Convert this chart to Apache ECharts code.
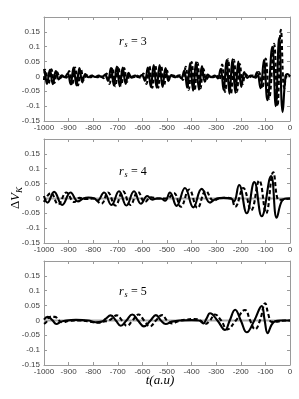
<!DOCTYPE html>
<html><head><meta charset="utf-8">
<script src="https://cdn.jsdelivr.net/npm/echarts@6/dist/echarts.min.js"></script>
<style>html,body{margin:0;padding:0;background:#fff}#c{width:299px;height:399px}</style>
</head><body><div id="c"></div>
<script>
// r_s values of the three panels
const rsValues = ['3', '4', '5'];
const xTickLabels = ['-1000','-900','-800','-700','-600','-500','-400','-300','-200','-100','0'];
const yTickLabels = ['-0.15','-0.1','-0.05','0','0.05','0.1','0.15'];
const zeroLine = [[-1000, 0], [0, 0]];

// panel 1 (r_s = 3)
const solid1 = [[-1000,0.025],[-994,0.0],[-988,-0.025],[-976,0.022],[-964,-0.026],[-952,0.018],[-940,-0.01],[-928,0.004],[-916,-0.003],
 [-904,0.01],[-892,-0.026],[-880,0.03],[-868,-0.03],[-856,0.028],[-844,-0.02],[-832,0.008],[-820,-0.003],[-806,0.003],[-792,-0.002],[-778,0.003],[-764,-0.003],[-752,0.006],
 [-740,-0.015],[-728,0.028],[-716,-0.03],[-704,0.033],[-692,-0.033],[-680,0.03],[-668,-0.025],[-656,0.012],[-644,-0.004],[-630,0.003],[-616,-0.003],[-602,0.005],
 [-590,-0.015],[-578,0.03],[-566,-0.035],[-554,0.038],[-542,-0.038],[-530,0.038],[-518,-0.035],[-506,0.028],[-494,-0.015],[-482,0.005],[-468,-0.003],[-454,0.003],[-442,-0.006],
 [-430,0.02],[-418,-0.038],[-406,0.045],[-394,-0.048],[-382,0.048],[-370,-0.045],[-358,0.035],[-346,-0.018],[-334,0.006],[-320,-0.003],[-306,0.003],[-294,-0.006],
 [-282,0.025],[-270,-0.045],[-258,0.055],[-246,-0.058],[-234,0.058],[-222,-0.055],[-210,0.05],[-198,-0.035],[-186,0.015],[-174,-0.005],[-160,0.003],[-146,-0.003],
 [-134,0.015],[-120,-0.04],[-106,0.055],[-92,-0.08],[-72,0.1],[-58,-0.1],[-44,0.13],[-30,-0.12],[-18,0.0],[-10,0.008],[0,0.0]];
const dashed1 = [[-1000,-0.012],[-994,0.022],[-982,-0.026],[-970,0.024],[-958,-0.022],[-946,0.014],[-934,-0.006],[-922,0.002],[-910,-0.004],
 [-898,0.018],[-886,-0.03],[-874,0.03],[-862,-0.03],[-850,0.024],[-838,-0.012],[-826,0.004],[-812,-0.003],[-798,0.003],[-784,-0.003],[-770,0.003],[-758,-0.006],
 [-746,0.01],[-734,-0.025],[-722,0.03],[-710,-0.033],[-698,0.033],[-686,-0.03],[-674,0.028],[-662,-0.018],[-650,0.006],[-636,-0.003],[-622,0.003],[-608,-0.004],
 [-596,0.01],[-584,-0.025],[-572,0.035],[-560,-0.038],[-548,0.038],[-536,-0.038],[-524,0.036],[-512,-0.03],[-500,0.02],[-488,-0.008],[-474,0.003],[-460,-0.003],[-448,0.004],
 [-436,-0.012],[-424,0.032],[-412,-0.045],[-400,0.048],[-388,-0.048],[-376,0.046],[-364,-0.04],[-352,0.026],[-340,-0.01],[-326,0.003],[-312,-0.003],[-300,0.004],
 [-288,-0.012],[-276,0.04],[-264,-0.052],[-252,0.058],[-240,-0.058],[-228,0.056],[-216,-0.052],[-204,0.042],[-192,-0.025],[-180,0.008],[-166,-0.003],[-152,0.003],
 [-140,-0.004],[-127,0.015],[-113,-0.04],[-99,0.06],[-85,-0.075],[-65,0.11],[-51,-0.1],[-37,0.157],[-23,-0.04],[-12,0.005],[0,0.0]];

// panel 2 (r_s = 4)
const solid2 = [[-1000,0.008],[-986,-0.014],[-959,0.022],[-926,-0.022],[-892,0.02],[-862,-0.01],[-840,0.0],[-820,0.003],[-795,0.0],
 [-783,-0.008],[-756,0.02],[-726,-0.022],[-695,0.024],[-665,-0.024],[-634,0.024],[-606,-0.018],[-580,0.008],[-560,-0.004],[-540,0.0],[-525,0.0],
 [-508,-0.008],[-488,0.02],[-461,-0.025],[-427,0.035],[-393,-0.03],[-359,0.032],[-325,-0.014],[-298,0.0],[-270,0.002],[-240,0.0],
 [-228,-0.01],[-207,0.045],[-176,-0.05],[-145,0.055],[-115,-0.06],[-77,0.075],[-54,-0.065],[-34,-0.01],[-15,0.0],[0,0.0]];
const dashed2 = [[-1000,-0.012],[-972,0.018],[-942,-0.02],[-909,0.02],[-877,-0.012],[-855,0.002],[-830,-0.002],[-800,0.0],
 [-767,-0.018],[-740,0.02],[-710,-0.024],[-679,0.024],[-649,-0.022],[-618,0.022],[-590,-0.012],[-565,0.004],[-540,0.0],[-500,0.0],
 [-472,0.018],[-444,-0.028],[-410,0.03],[-376,-0.032],[-342,0.025],[-310,-0.008],[-290,0.0],[-260,0.002],[-240,0.0],
 [-223,-0.028],[-190,0.035],[-158,-0.04],[-125,0.06],[-97,-0.05],[-68,0.088],[-45,-0.005],[-25,-0.003],[0,0.0]];

// panel 3 (r_s = 5)
const solid3 = [[-1000,0.003],[-985,0.012],[-965,0.0],[-950,-0.012],[-930,-0.004],[-910,0.0],[-870,0.002],[-820,0.0],[-790,-0.006],[-765,-0.004],
 [-750,0.005],[-729,0.017],[-708,0.0],[-688,-0.018],[-665,0.0],[-641,0.02],[-618,0.0],[-594,-0.02],[-567,0.0],[-545,0.018],[-525,0.0],[-505,-0.012],
 [-480,-0.004],[-450,0.0],[-400,0.001],[-370,0.0],[-352,-0.01],[-340,0.005],[-325,0.024],[-295,0.0],[-264,-0.032],[-245,0.0],[-223,0.036],
 [-200,0.0],[-176,-0.04],[-145,0.0],[-115,0.048],[-103,0.0],[-91,-0.043],[-75,-0.015],[-61,-0.003],[-40,0.0],[0,0.0]];
const dashed3 = [[-1000,-0.012],[-990,-0.005],[-975,0.012],[-955,0.012],[-940,0.0],[-925,-0.006],[-900,-0.002],[-860,0.0],[-800,-0.006],[-780,-0.008],
 [-760,-0.004],[-735,0.0],[-704,0.017],[-683,0.0],[-663,-0.018],[-640,0.0],[-616,0.02],[-593,0.0],[-569,-0.02],[-545,0.0],[-520,0.018],[-500,0.0],
 [-480,-0.01],[-455,-0.003],[-420,0.003],[-390,0.005],[-365,0.0],[-345,-0.012],[-325,0.0],[-305,0.02],[-280,0.0],[-255,-0.03],[-220,0.0],
 [-183,0.035],[-162,0.0],[-142,-0.03],[-122,0.0],[-101,0.058],[-88,0.02],[-75,-0.005],[-50,-0.004],[-20,0.0],[0,0.0]];

const solids = [solid1, solid2, solid3];
const dasheds = [dashed1, dashed2, dashed3];

const tops = [17, 139, 261];
const panelH = 104;
const axisCol = '#9a9a9a';
const labCol = '#404040';
const labFont = 'Liberation Sans';

const grids = [], xAxes = [], yAxes = [], series = [];
tops.forEach((tp, i) => {
  grids.push({left: 44, top: tp, width: 246, height: panelH});
  const xBase = {gridIndex: i, type: 'value', min: -1000, max: 0, interval: 100,
    axisLine: {onZero: false, lineStyle: {color: axisCol, width: 1}},
    axisTick: {inside: true, length: 3, lineStyle: {color: axisCol}},
    splitLine: {show: false}};
  xAxes.push(Object.assign({}, xBase, {position: 'bottom',
    axisLabel: {fontSize: 8, color: labCol, fontFamily: labFont, margin: 3,
      formatter: v => xTickLabels[Math.round((v + 1000) / 100)]}}));
  xAxes.push(Object.assign({}, xBase, {position: 'top', axisLabel: {show: false}}));
  const yBase = {gridIndex: i, type: 'value', min: -0.15, max: 0.2, interval: 0.05,
    axisLine: {show: true, onZero: false, lineStyle: {color: axisCol, width: 1}},
    axisTick: {show: true, inside: true, length: 3, lineStyle: {color: axisCol}},
    splitLine: {show: false}};
  yAxes.push(Object.assign({}, yBase, {position: 'left',
    axisLabel: {fontSize: 8, color: labCol, fontFamily: labFont, margin: 4,
      formatter: v => { const k = Math.round((v + 0.15) / 0.05); return k < yTickLabels.length ? yTickLabels[k] : ''; }}}));
  yAxes.push(Object.assign({}, yBase, {position: 'right', axisLabel: {show: false}}));
  series.push({type: 'line', xAxisIndex: 2 * i, yAxisIndex: 2 * i, data: zeroLine, showSymbol: false, silent: true,
    lineStyle: {color: '#a8a8a8', width: 2}, z: 1});
  series.push({type: 'line', xAxisIndex: 2 * i, yAxisIndex: 2 * i, data: dasheds[i], showSymbol: false, smooth: 0.45,
    lineStyle: {color: '#000', width: 2.1, type: [4, 2.5]}, z: 3});
  series.push({type: 'line', xAxisIndex: 2 * i, yAxisIndex: 2 * i, data: solids[i], showSymbol: false, smooth: 0.45,
    lineStyle: {color: '#000', width: 2.1}, z: 4});
});

const rsY = [42, 172, 292];
const graphics = [];
rsY.forEach((yy, i) => {
  graphics.push({type: 'text', x: 119, y: yy, style: {text: 'r', font: 'italic 12px "Liberation Serif"', fill: '#000', textVerticalAlign: 'middle'}});
  graphics.push({type: 'text', x: 124.5, y: yy + 3, style: {text: 's', font: 'italic 8px "Liberation Serif"', fill: '#000', textVerticalAlign: 'middle'}});
  graphics.push({type: 'text', x: 131, y: yy, style: {text: '= ' + rsValues[i], font: '12px "Liberation Serif"', fill: '#000', textVerticalAlign: 'middle'}});
});
graphics.push({type: 'group', x: 16, y: 198, rotation: Math.PI / 2, children: [
  {type: 'text', x: -11, y: 0, style: {text: 'Δ', font: '13px "Liberation Serif"', fill: '#000', textVerticalAlign: 'middle'}},
  {type: 'text', x: -3, y: 0, style: {text: 'V', font: 'italic 13px "Liberation Serif"', fill: '#000', textVerticalAlign: 'middle'}},
  {type: 'text', x: 5, y: 4, style: {text: 'K', font: 'italic 9px "Liberation Serif"', fill: '#000', textVerticalAlign: 'middle'}}
]});
graphics.push({type: 'text', x: 160, y: 381, style: {text: 't(a.u)', font: 'italic 13px "Liberation Serif"', fill: '#000', textAlign: 'center', textVerticalAlign: 'middle'}});

const chart = echarts.init(document.getElementById('c'), null, {renderer: 'canvas'});
chart.setOption({animation: false, backgroundColor: '#fff', grid: grids, xAxis: xAxes, yAxis: yAxes, series: series, graphic: graphics});
</script></body></html>
